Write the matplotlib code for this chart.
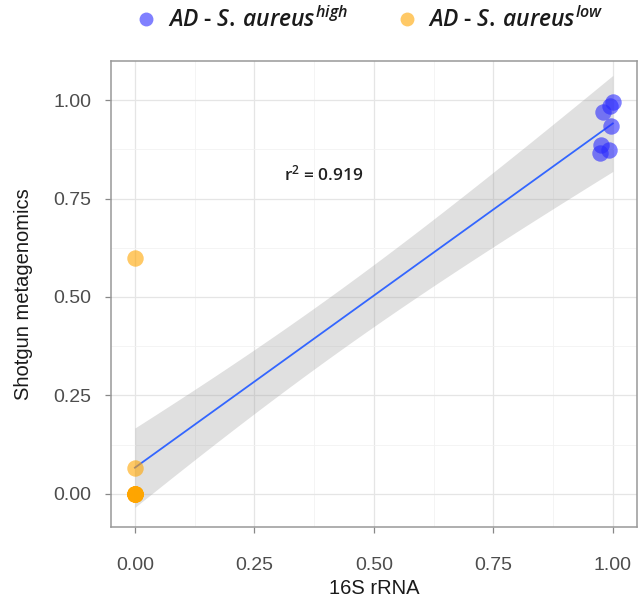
import numpy as np
import matplotlib.pyplot as plt
from matplotlib.lines import Line2D
from matplotlib.ticker import MultipleLocator

plt.rcParams['font.family'] = ['Liberation Sans', 'DejaVu Sans']
plt.rcParams['mathtext.fontset'] = 'custom'
plt.rcParams['mathtext.it'] = 'Open Sans:italic:semibold'
plt.rcParams['mathtext.rm'] = 'Open Sans:semibold'

# --- data ---
high_x = [1.00, 0.995, 0.98, 0.997, 0.975, 0.993, 0.973]
high_y = [0.995, 0.985, 0.970, 0.935, 0.885, 0.872, 0.865]
low_x = [0.0, 0.0, 0.0, 0.0, 0.0, 0.0, 0.0, 0.0, 0.0, 0.0]
low_y = [0.60, 0.065, 0.0, 0.0, 0.0, 0.0, 0.0, 0.0, 0.0, 0.0]
r2_label = "r$^2$ = 0.919"
ticks = [0.0, 0.25, 0.5, 0.75, 1.0]
tick_labels = ["0.00", "0.25", "0.50", "0.75", "1.00"]

col_high = "#2B2BFF"
col_low = "#FFA500"

# --- linear fit with 95% confidence band (geom_smooth(method='lm')) ---
x_all = np.array(high_x + low_x)
y_all = np.array(high_y + low_y)
n = len(x_all)
b1, b0 = np.polyfit(x_all, y_all, 1)
resid = y_all - (b0 + b1 * x_all)
s = np.sqrt(np.sum(resid ** 2) / (n - 2))
sxx = np.sum((x_all - x_all.mean()) ** 2)
t975 = 2.131  # t quantile, df = 15
xs = np.linspace(x_all.min(), x_all.max(), 100)
ys = b0 + b1 * xs
se = s * np.sqrt(1 / n + (xs - x_all.mean()) ** 2 / sxx)

fig = plt.figure(figsize=(6.38, 6.07), dpi=100)
ax = fig.add_axes([0.174, 0.132, 0.824, 0.768])

ax.fill_between(xs, ys - t975 * se, ys + t975 * se, color="#999999", alpha=0.3,
                lw=0, zorder=2)
ax.plot(xs, ys, color="#3366FF", lw=1.3, zorder=3)
ax.scatter(high_x, high_y, s=140, color=col_high, alpha=0.6, lw=0, zorder=4)
ax.scatter(low_x, low_y, s=140, color=col_low, alpha=0.6, lw=0, zorder=4)

ax.text(0.313, 0.81, r2_label, fontsize=12.5, color="#222222", va="center",
        ha="left", family="Open Sans", fontweight="semibold")

ax.set_xlim(-0.05, 1.05)
ax.set_ylim(-0.084, 1.1)
ax.set_xticks(ticks)
ax.set_xticklabels(tick_labels)
ax.set_yticks(ticks)
ax.set_yticklabels(tick_labels)
ax.xaxis.set_minor_locator(MultipleLocator(0.125))
ax.yaxis.set_minor_locator(MultipleLocator(0.125))
ax.grid(True, which="major", color="#E5E5E5", lw=0.9, zorder=0)
ax.grid(True, which="minor", color="#F2F2F2", lw=0.6, zorder=0)
ax.set_axisbelow(True)
ax.tick_params(which="major", length=4, width=0.9, color="#888888",
               labelsize=14, labelcolor="#4D4D4D")
ax.tick_params(axis="x", which="major", pad=18)
ax.tick_params(axis="y", which="major", pad=10)
ax.tick_params(which="minor", length=0)
for sp in ax.spines.values():
    sp.set_color("#999999")
    sp.set_linewidth(1.1)

ax.set_xlabel("16S rRNA", fontsize=14.5, color="#1A1A1A", labelpad=3)
ax.set_ylabel("Shotgun metagenomics", fontsize=14.5, color="#1A1A1A", labelpad=15)

handles = [
    Line2D([], [], marker="o", ls="", ms=10, color=col_high, alpha=0.6, mew=0),
    Line2D([], [], marker="o", ls="", ms=10, color=col_low, alpha=0.6, mew=0),
]
labels = [r"$AD\;\text{-}\;S.\,aureus^{high}$", r"$AD\;\text{-}\;S.\,aureus^{low}$"]
fig.legend(handles, labels, loc="center", bbox_to_anchor=(0.579, 0.968), ncol=2,
           frameon=False, fontsize=16.5, handlelength=1.0, handletextpad=0.45,
           columnspacing=2.05, labelcolor="#1A1A1A")

fig.savefig("out.png", dpi=100)
